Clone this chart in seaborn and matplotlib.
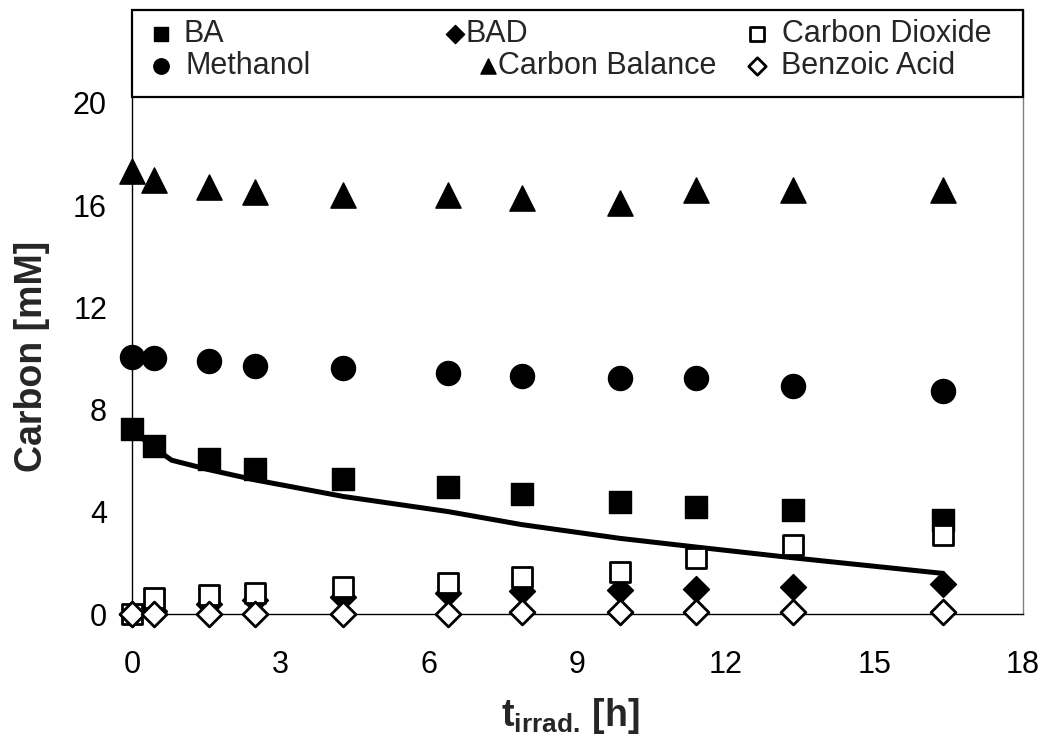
import matplotlib
matplotlib.use("Agg")
import matplotlib.pyplot as plt
from matplotlib.patches import Rectangle
from matplotlib.legend import Legend
import seaborn as sns

# ---- data ----
time_h = [0, 0.45, 1.55, 2.48, 4.27, 6.38, 7.87, 9.86, 11.4, 13.35, 16.38]
ba = [7.25, 6.56, 6.07, 5.68, 5.29, 4.97, 4.68, 4.38, 4.18, 4.09, 3.69]
bad = [0, 0.12, 0.40, 0.56, 0.66, 0.84, 0.90, 0.94, 0.99, 1.07, 1.17]
co2 = [0, 0.64, 0.75, 0.84, 1.04, 1.23, 1.44, 1.63, 2.20, 2.70, 3.10]
methanol = [10.07, 10.02, 9.91, 9.72, 9.63, 9.43, 9.33, 9.24, 9.24, 8.94, 8.74]
carbon_balance = [17.34, 17.0, 16.7, 16.5, 16.4, 16.4, 16.3, 16.1, 16.6, 16.6, 16.6]
benzoic = [0, 0, 0, 0, 0, 0, 0.08, 0.08, 0.08, 0.08, 0.08]
model_t = [0, 0.45, 0.8, 1.55, 2.48, 4.27, 6.38, 7.87, 9.86, 11.4, 13.35, 16.38]
model_ba = [7.2, 6.5, 6.02, 5.65, 5.25, 4.6, 4.01, 3.5, 2.96, 2.62, 2.2, 1.59]

x_ticks = [0, 3, 6, 9, 12, 15, 18]
y_ticks = [0, 4, 8, 12, 16, 20]
series_labels = ["BA", "BAD", "Carbon Dioxide", "Methanol", "Carbon Balance", "Benzoic Acid"]

sns.set_style("white")
plt.rcParams["font.family"] = ["Liberation Sans", "DejaVu Sans"]
plt.rcParams["mathtext.fontset"] = "custom"
plt.rcParams["mathtext.rm"] = "Liberation Sans"
plt.rcParams["mathtext.bf"] = "Liberation Sans:bold"

fig = plt.figure(figsize=(10.46, 7.46), dpi=100)
ax = fig.add_axes([132 / 1046, 1 - 614 / 746, (1023 - 132) / 1046, (614 - 10) / 746])

sns.lineplot(x=model_t, y=model_ba, color="black", linewidth=3.6, sort=False,
             ax=ax, zorder=2, legend=False)

styles = [
    (ba, "s", 250, "black", 1.0),
    (bad, "D", 175, "black", 1.0),
    (co2, "s", 215, "white", 2.0),
    (methanol, "o", 300, "black", 1.0),
    (carbon_balance, "^", 330, "black", 1.0),
    (benzoic, "D", 160, "white", 2.0),
]
for (vals, mk, s, fc, lw), lab in zip(styles, series_labels):
    sns.scatterplot(x=time_h, y=vals, marker=mk, s=s, color=fc, edgecolor="black",
                    linewidth=lw, ax=ax, zorder=3, clip_on=False, label=lab, legend=False)

ax.set_xlim(0, 18)
ax.set_ylim(0, (614 - 10) / 25.55)
ax.set_xticks(x_ticks)
ax.set_yticks(y_ticks)
ax.tick_params(axis="both", direction="in", length=7, width=1, color="black",
               labelsize=22, labelcolor="black")
ax.tick_params(axis="x", pad=26)
ax.tick_params(axis="y", pad=18)
for side in ["left", "bottom"]:
    ax.spines[side].set_color("black")
    ax.spines[side].set_linewidth(1.0)
ax.spines["right"].set_color("#808080")
ax.spines["right"].set_linewidth(1.0)
ax.spines["top"].set_visible(False)

ax.set_ylabel("Carbon [mM]", fontsize=27, fontweight="bold")
ax.yaxis.set_label_coords(-0.092, 0.426)
ax.set_xlabel(r"$\mathbf{t}_{\mathbf{irrad.}}\,$[h]", fontsize=27, fontweight="bold")
ax.xaxis.set_label_coords(0.4916, -0.135)

# ---- legend: boxed band across the top of the plot area ----
ax.add_patch(Rectangle((0, (614 - 97) / 604), 1, (97 - 10) / 604, transform=ax.transAxes,
                       facecolor="white", edgecolor="black", linewidth=1.6,
                       clip_on=False, zorder=5))
handles, labels = ax.get_legend_handles_labels()
hmap = dict(zip(labels, handles))
fs_px = 22 * 100 / 72
hl = 0.5
# (label, marker centre px, text start px, row centre px, marker scale)
entries = [("BA", 160.5, 184, 34, 0.64), ("BAD", 455, 466, 34, 0.7),
           ("Carbon Dioxide", 757, 782, 34, 0.64),
           ("Methanol", 160.5, 185, 66, 0.64), ("Carbon Balance", 487.5, 498, 66, 0.6),
           ("Benzoic Acid", 757, 781, 66, 0.7)]
for lab, mc, ts, yc, msc in entries:
    left = mc - hl * fs_px / 2
    htp = (ts - mc - hl * fs_px / 2) / fs_px
    leg = Legend(ax, [hmap[lab]], [lab], loc="center left",
                 bbox_to_anchor=((left - 132) / 891, (614 - yc) / 604),
                 bbox_transform=ax.transAxes,
                 frameon=False, fontsize=22, handlelength=hl, handletextpad=htp,
                 borderpad=0, borderaxespad=0, markerscale=msc)
    leg.set_zorder(6)
    ax.add_artist(leg)

fig.savefig("out.png", dpi=100)
